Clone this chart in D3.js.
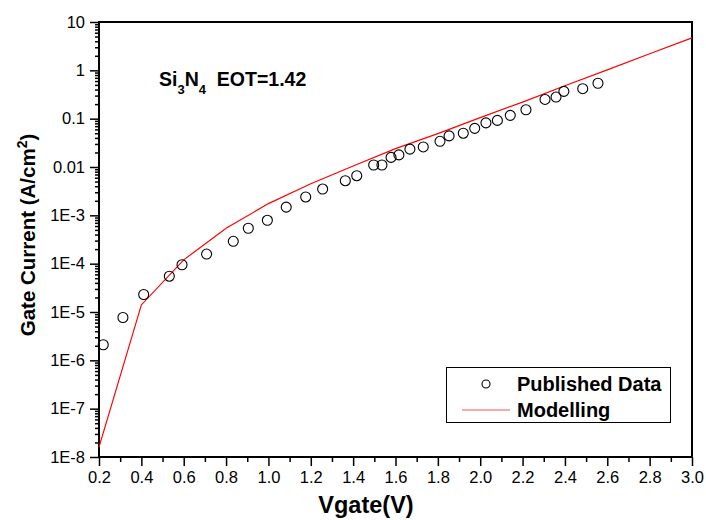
<!DOCTYPE html>
<html><head><meta charset="utf-8">
<script src="https://cdn.jsdelivr.net/npm/d3@7/dist/d3.min.js"></script>
<style>body{margin:0;background:#fff}svg{display:block}text{font-family:"Liberation Sans",Arial,sans-serif}</style>
</head><body><div id="chart"></div>
<script>
const dataV = [0.22,0.313,0.411,0.532,0.592,0.708,0.834,0.905,0.995,1.084,1.176,1.256,1.363,1.417,1.497,1.536,1.579,1.616,1.668,1.731,1.81,1.853,1.92,1.974,2.027,2.081,2.142,2.216,2.306,2.358,2.395,2.484,2.556];
const dataI = [2.1e-6,7.7e-6,2.3e-5,5.5e-5,9.5e-5,1.58e-4,2.9e-4,5.4e-4,7.9e-4,1.48e-3,2.4e-3,3.5e-3,5.2e-3,6.6e-3,0.011,0.011,0.0158,0.0178,0.0234,0.026,0.034,0.044,0.050,0.063,0.082,0.092,0.117,0.153,0.25,0.28,0.367,0.417,0.54];
const modelV = [0.2,0.4,0.6,0.8,1.0,1.2,1.4,1.6,1.8,2.0,2.2,2.4,2.6,2.8,3.0];
const modelI = [1.6e-8,1.4e-5,1.2e-4,5.4e-4,1.75e-3,4.5e-3,0.0105,0.024,0.049,0.105,0.22,0.48,1.02,2.2,4.7];
const xTicks = [0.2,0.4,0.6,0.8,1.0,1.2,1.4,1.6,1.8,2.0,2.2,2.4,2.6,2.8,3.0];
const yTicks = [10,1,0.1,0.01,1e-3,1e-4,1e-5,1e-6,1e-7,1e-8];
const yTickLabels = ["10","1","0.1","0.01","1E-3","1E-4","1E-5","1E-6","1E-7","1E-8"];

const W=706,H=520, m={l:99,t:22,r:14,b:63};
const svg=d3.select("#chart").append("svg").attr("width",W).attr("height",H);
const x=d3.scaleLinear().domain([0.2,3.0]).range([m.l,W-m.r]);
const y=d3.scaleLog().domain([1e-8,10]).range([H-m.b,m.t]);

const xMinor=d3.range(0.3,3.0,0.2).map(v=>+v.toFixed(2));
const yMinor=[];
for(let e=-8;e<1;e++){for(let k=2;k<=9;k++)yMinor.push(k*Math.pow(10,e));}

const gx=svg.append("g").attr("transform",`translate(0,${H-m.b})`);
gx.call(d3.axisBottom(x).tickValues(xMinor).tickSize(5).tickFormat(""));
gx.select(".domain").remove();
const gx2=svg.append("g").attr("transform",`translate(0,${H-m.b})`)
 .call(d3.axisBottom(x).tickValues(xTicks).tickSize(9).tickPadding(5).tickFormat(d3.format(".1f")));
gx2.select(".domain").remove();
gx2.selectAll("text").attr("font-size",16.5).attr("fill","#000");

const gy=svg.append("g").attr("transform",`translate(${m.l},0)`);
gy.call(d3.axisLeft(y).tickValues(yMinor).tickSize(4).tickFormat(""));
gy.select(".domain").remove();
const gy2=svg.append("g").attr("transform",`translate(${m.l},0)`)
 .call(d3.axisLeft(y).tickValues(yTicks).tickSize(9).tickPadding(5).tickFormat((d,i)=>yTickLabels[i]));
gy2.select(".domain").remove();
gy2.selectAll("text").attr("font-size",16.5).attr("fill","#000");
svg.selectAll(".tick line").attr("stroke","#000").attr("stroke-width",1.5);

svg.append("rect").attr("x",m.l).attr("y",m.t).attr("width",W-m.r-m.l).attr("height",H-m.b-m.t)
 .attr("fill","none").attr("stroke","#000").attr("stroke-width",2);

const line=d3.line().x((d,i)=>x(modelV[i])).y((d,i)=>y(modelI[i]));
svg.append("path").datum(modelV).attr("d",line).attr("fill","none").attr("stroke","#ff0000").attr("stroke-width",1.2);

svg.append("g").selectAll("circle").data(dataV).join("circle")
 .attr("cx",(d)=>x(d)).attr("cy",(d,i)=>y(dataI[i])).attr("r",5)
 .attr("fill","none").attr("stroke","#000").attr("stroke-width",1.1);

const ann=svg.append("text").attr("x",159).attr("y",86).attr("font-size",19.5).attr("font-weight","bold");
ann.append("tspan").text("Si");
ann.append("tspan").attr("font-size",13).attr("dy",8).text("3");
ann.append("tspan").attr("dy",-8).text("N");
ann.append("tspan").attr("font-size",13).attr("dy",8).text("4");
ann.append("tspan").attr("dy",-8).text("\u00a0 EOT=1.42");

const lg=svg.append("g");
lg.append("rect").attr("x",446.5).attr("y",367.5).attr("width",224).attr("height",55).attr("fill","#fff").attr("stroke","#000").attr("stroke-width",1);
lg.append("circle").attr("cx",486).attr("cy",384).attr("r",4).attr("fill","none").attr("stroke","#000").attr("stroke-width",1.1);
lg.append("line").attr("x1",462).attr("x2",510).attr("y1",410).attr("y2",410).attr("stroke","#ff5050").attr("stroke-width",1.2);
lg.append("text").attr("x",517).attr("y",391).attr("font-size",20).attr("font-weight","bold").text("Published Data");
lg.append("text").attr("x",517).attr("y",417).attr("font-size",20).attr("font-weight","bold").text("Modelling");

svg.append("text").attr("x",366).attr("y",513).attr("text-anchor","middle").attr("font-size",23.5).attr("font-weight","bold").text("Vgate(V)");
const yt=svg.append("text").attr("transform",`translate(35,235) rotate(-90)`).attr("text-anchor","middle").attr("font-size",20.5).attr("font-weight","bold");
yt.append("tspan").text("Gate Current (A/cm");
yt.append("tspan").attr("font-size",14).attr("dy",-8).text("2");
yt.append("tspan").attr("dy",8).text(")");
</script></body></html>
